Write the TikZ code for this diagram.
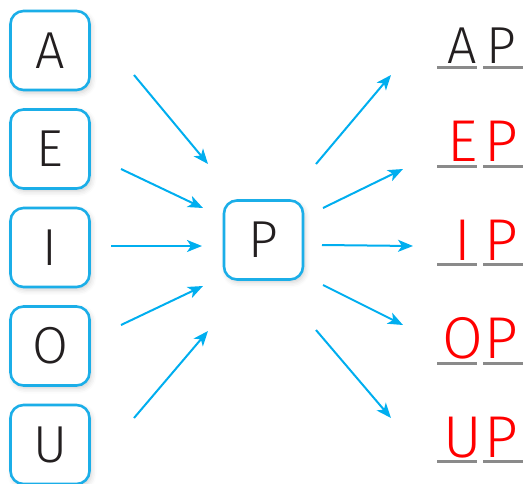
\documentclass[tikz,border=0pt]{standalone}
\usepackage{fontspec}
\newfontfamily\lf{Fira Sans Light}
\usetikzlibrary{arrows.meta,shadows.blur}
\definecolor{boxblue}{HTML}{1BAEE8}
\definecolor{arrblue}{HTML}{00AEEF}
\definecolor{ink}{HTML}{231F20}
\definecolor{ulgray}{HTML}{8A8A8A}
\definecolor{lred}{HTML}{FF0000}
\tikzset{
  letterbox/.style={draw=boxblue, line width=2.6pt, rounded corners=13pt, fill=white,
    minimum width=79pt, minimum height=79pt, inner sep=0pt,
    font=\lf\fontsize{52}{52}\selectfont, text=ink,
    blur shadow={shadow xshift=2pt, shadow yshift=-3pt, shadow blur radius=5pt, shadow opacity=18}},
  arr/.style={draw=arrblue, line width=2pt, -{Stealth[length=15pt,width=12pt,inset=4pt]}},
  ans/.style={font=\lf\fontsize{52}{52}\selectfont, anchor=base, inner sep=0pt, text=ink},
  redans/.style={font=\lf\fontsize{59}{59}\selectfont, anchor=base, inner sep=0pt, text=lred},
  uline/.style={draw=ulgray, line width=3pt}
}
\begin{document}
\begin{tikzpicture}[x=1pt,y=-1pt]
\useasboundingbox (0,0) rectangle (523,483);
% left boxes
\node[letterbox] (A) at (50,50.5) {A};
\node[letterbox] (E) at (50,149) {E};
\node[letterbox] (I) at (50,247.5) {I};
\node[letterbox] (O) at (50,346) {O};
\node[letterbox] (U) at (50,444.5) {U};
\node[letterbox] (P) at (263.5,240) {P};
% left arrow coordinates
\coordinate (a1) at (134,75); \coordinate (a2) at (208,164);
\coordinate (e1) at (121,169); \coordinate (e2) at (203,208);
\coordinate (i1) at (111,246); \coordinate (i2) at (202,246);
\coordinate (o1) at (121,325); \coordinate (o2) at (203,286);
\coordinate (u1) at (134,418); \coordinate (u2) at (208,331);
\draw[arr] (a1) -- (a2);
\draw[arr] (e1) -- (e2);
\draw[arr] (i1) -- (i2);
\draw[arr] (o1) -- (o2);
\draw[arr] (u1) -- (u2);
% right arrow coordinates
\coordinate (r1s) at (316,164); \coordinate (r1e) at (391,75);
\coordinate (r2s) at (323,208); \coordinate (r2e) at (403,169);
\coordinate (r3s) at (322,245); \coordinate (r3e) at (413,246);
\coordinate (r4s) at (323,285); \coordinate (r4e) at (403,325);
\coordinate (r5s) at (316,330); \coordinate (r5e) at (391,418);
\draw[arr] (r1s) -- (r1e);
\draw[arr] (r2s) -- (r2e);
\draw[arr] (r3s) -- (r3e);
\draw[arr] (r4s) -- (r4e);
\draw[arr] (r5s) -- (r5e);
% answers
\node[ans] (L1) at (462,63) {A};
\node[ans] (R1) at (501,63) {P};
\foreach \y/\l [count=\k from 2] in {161.5/E,260/I,358.5/O,457/U}{
  \node[redans] (L\k) at (463,\y) {\l};
  \node[redans] (R\k) at (501,\y) {P};
}
\foreach \y [count=\k] in {63,161.5,260,358.5,457}{
  \coordinate (ul\k a) at (437,\y+4.5); \coordinate (ul\k b) at (477,\y+4.5);
  \coordinate (ur\k a) at (483,\y+4.5); \coordinate (ur\k b) at (523,\y+4.5);
  \draw[uline] (ul\k a) -- (ul\k b);
  \draw[uline] (ur\k a) -- (ur\k b);
}
\end{tikzpicture}
\end{document}
